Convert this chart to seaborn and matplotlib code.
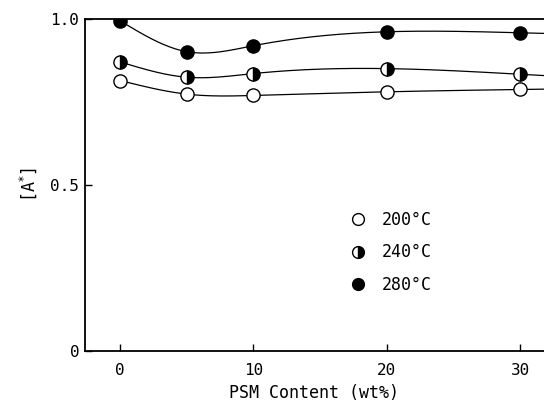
import numpy as np
import pandas as pd
import matplotlib
matplotlib.use("Agg")
import matplotlib.pyplot as plt
import seaborn as sns
from matplotlib.lines import Line2D

psm = [0, 5, 10, 20, 30]
a_200 = [0.815, 0.774, 0.770, 0.781, 0.788]
a_240 = [0.871, 0.825, 0.836, 0.851, 0.834]
a_280 = [0.995, 0.902, 0.920, 0.962, 0.959]
labels = ["200°C", "240°C", "280°C"]


def natural_spline(x, y, xs):
    x = np.asarray(x, float); y = np.asarray(y, float)
    n = len(x)
    h = np.diff(x)
    A = np.zeros((n, n)); r = np.zeros(n)
    A[0, 0] = A[-1, -1] = 1
    for i in range(1, n - 1):
        A[i, i - 1] = h[i - 1]; A[i, i] = 2 * (h[i - 1] + h[i]); A[i, i + 1] = h[i]
        r[i] = 3 * ((y[i + 1] - y[i]) / h[i] - (y[i] - y[i - 1]) / h[i - 1])
    c = np.linalg.solve(A, r)
    b = np.array([(y[i + 1] - y[i]) / h[i] - h[i] * (2 * c[i] + c[i + 1]) / 3 for i in range(n - 1)])
    d = np.array([(c[i + 1] - c[i]) / (3 * h[i]) for i in range(n - 1)])
    idx = np.clip(np.searchsorted(x, xs) - 1, 0, n - 2)
    t = xs - x[idx]
    return y[idx] + b[idx] * t + c[idx] * t ** 2 + d[idx] * t ** 3


sns.set_style("ticks")
plt.rcParams["font.family"] = ["DejaVu Sans Mono", "DejaVu Sans"]
plt.rcParams["text.color"] = "black"
plt.rcParams["axes.labelcolor"] = "black"

fig = plt.figure(figsize=(5.44, 4.08), dpi=100)
ax = fig.add_axes([0.156, 0.140, 0.844, 0.813])

xs = np.linspace(0, 32, 300)
series = [a_200, a_240, a_280]
frames = []
for lab, vals in zip(labels, series):
    frames.append(pd.DataFrame({"x": xs, "y": natural_spline(psm, vals, xs), "s": lab}))
curves = pd.concat(frames)
sns.lineplot(data=curves, x="x", y="y", hue="s", palette=["black"] * 3,
             linewidth=0.9, legend=False, ax=ax, sort=False, estimator=None)

styles = [dict(marker="o", markerfacecolor="white", markeredgecolor="black"),
          dict(marker="o", fillstyle="right", markerfacecolor="black",
               markerfacecoloralt="white", markeredgecolor="black"),
          dict(marker="o", markerfacecolor="black", markeredgecolor="black")]
handles = []
for lab, vals, st in zip(labels, series, styles):
    ax.plot(psm, vals, linestyle="none", markersize=9.5, markeredgewidth=1.0, zorder=5, **st)
    handles.append(Line2D([], [], linestyle="none", markersize=8.5, markeredgewidth=1.0, label=lab, **st))

ax.set_xlim(-2.65, 31.8)
ax.set_ylim(0, 1.0)
ax.set_xticks([0, 10, 20, 30])
ax.set_xticklabels(["0", "10", "20", "30"])
ax.set_yticks([0, 0.5, 1.0])
ax.set_yticklabels(["0", "0.5", "1.0"])
ax.tick_params(direction="in", length=5, width=1, labelsize=11.5, colors="black")
ax.tick_params(axis="x", pad=9)
ax.tick_params(axis="y", pad=4)
for s in ["left", "bottom", "top"]:
    ax.spines[s].set_linewidth(1.3)
    ax.spines[s].set_color("black")
ax.spines["right"].set_visible(False)
ax.set_xlabel("PSM Content (wt%)", fontsize=12, labelpad=4)
ax.set_ylabel(r"[A$^{*}$]", fontsize=12, labelpad=8)

leg = ax.legend(handles=handles, frameon=False, fontsize=12, loc="upper left",
                bbox_to_anchor=(0.545, 0.466), labelspacing=0.85, handletextpad=0.9,
                handlelength=1.0)

fig.savefig("out.png", dpi=100)
